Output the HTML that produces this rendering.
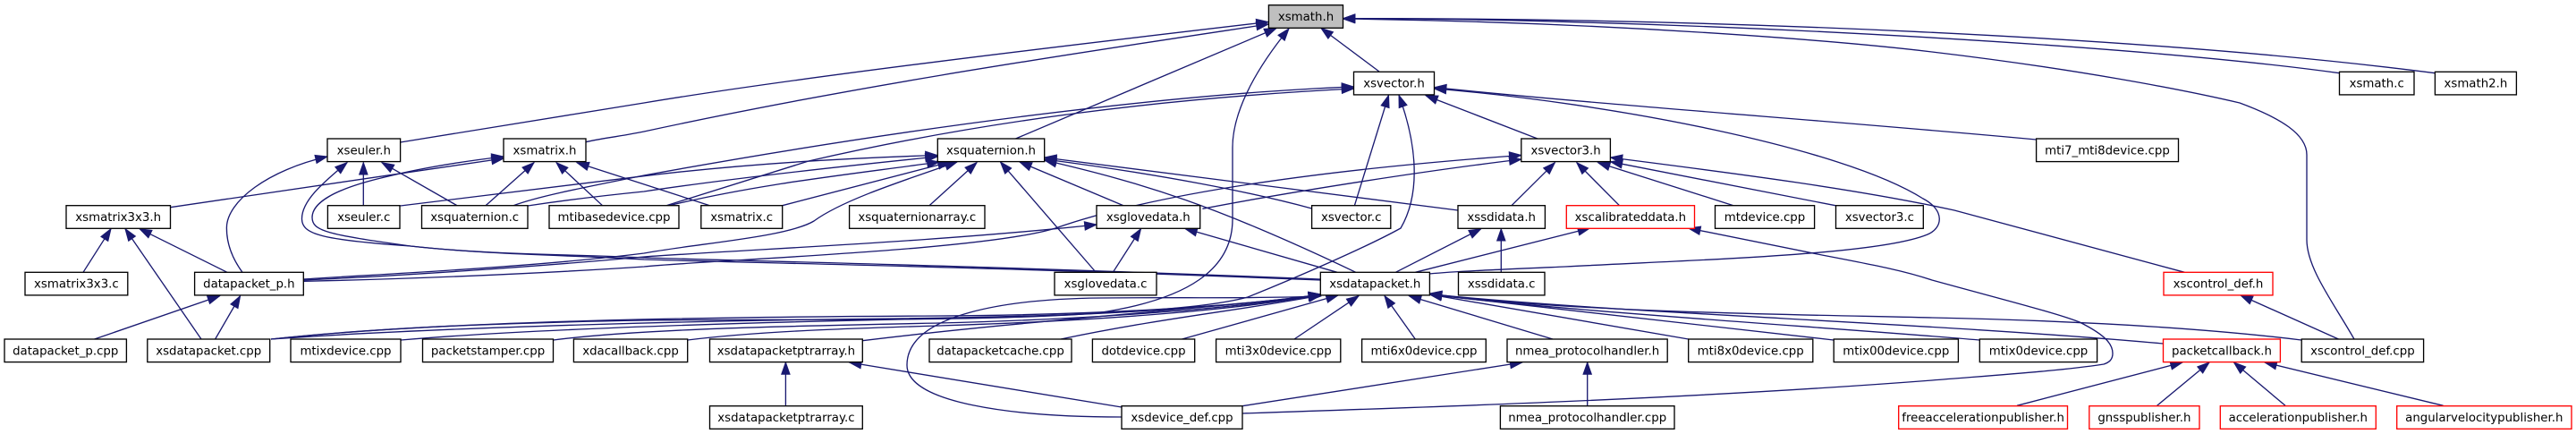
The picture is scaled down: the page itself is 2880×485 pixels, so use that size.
<!DOCTYPE html>
<html><head><meta charset="utf-8"><title>xsmath.h include graph</title>
<style>
html,body{margin:0;padding:0;background:#fff}
svg{display:block}
.e path{fill:none;stroke:#191970;stroke-width:1.33;marker-start:url(#a)}
rect{fill:#fff;stroke:#000;stroke-width:1.33}
rect.r{stroke:#f00}
rect.g{fill:#bfbfbf}
text{font-family:"DejaVu Sans",sans-serif;font-size:13.33px;text-anchor:middle;fill:#000}
</style></head><body>
<svg xmlns="http://www.w3.org/2000/svg" width="2880" height="485" viewBox="0 0 2880 485">
<defs><marker id="a" markerUnits="userSpaceOnUse" markerWidth="16" markerHeight="12" refX="0" refY="6" orient="auto" overflow="visible"><path d="M0,6 L13.3,1.33 L13.3,10.67 z" fill="#191970" stroke="#191970" stroke-width="1"/></marker></defs>
<g class="e">
<!-- to xsmath.h -->
<path d="M1418,24.5 C1200,50 900,85 720,115 C620,132 530,145 447.6,159"/>
<path d="M1418,27 C1200,60 960,95 720,147 C690,153 670,155 655,158.7"/>
<path d="M1427,31.5 L1135.5,155"/>
<path d="M1441,32 C1410,70 1378,120 1378,165 L1378,245 C1378,300 1330,335 1225,350 C1100,360 850,356 720,358 C600,360 430,365 303,379"/>
<path d="M1477,31.5 L1542,80"/>
<path d="M1501.5,20.7 C1800,20 2350,45 2615.5,81.7"/>
<path d="M1501.5,20.7 C1900,20 2400,40 2722.4,81.7"/>
<path d="M1501.5,21 C1800,25 2050,45 2160,58 C2320,77 2440,100 2504,115 C2550,132 2579,150 2579,173 L2579,268 C2579,300 2610,340 2632,379"/>
<!-- to xsvector.h -->
<path d="M1552.5,106.5 L1514.4,229.7"/>
<path d="M1564,106.5 C1580,150 1592,210 1566,255 C1530,275 1450,310 1395,332 C1330,350 1150,354 1000,356 C800,358 500,365 303,379"/>
<path d="M1513.5,97 C1300,105 1000,145 720,196 C640,212 600,220 574,229.7"/>
<path d="M1513.5,99 C1300,110 1100,135 904,180 L745,229.7"/>
<path d="M1594,106.7 L1719,155"/>
<path d="M1603.5,97.7 C1800,118 2050,135 2276.6,156"/>
<path d="M1603.5,99 C1800,115 2060,165 2150,222 C2175,235 2172,255 2155,262 C2100,285 1900,290 1750,298 C1680,301 1630,303 1598,306"/>
<!-- to xsquaternion.h -->
<path d="M1048,173.5 C900,178 800,187 720,196.7 L447.6,230"/>
<path d="M1048,175 C900,190 800,202 720,214 C670,219 630,224 590,230"/>
<path d="M1050,181 C950,195 850,205 747,230"/>
<path d="M1062,181 L874.7,229.7"/>
<path d="M1070,181 C1000,205 940,225 910,247 C880,265 780,272 720,283 C600,298 450,305 339,312"/>
<path d="M1092,181.7 L1039,229.7"/>
<path d="M1118.5,181 L1225,304"/>
<path d="M1140,181 L1256,229.7"/>
<path d="M1167.7,176 L1630,235"/>
<path d="M1167.7,178 C1300,195 1400,215 1466.6,233"/>
<path d="M1167.7,179 C1280,205 1360,230 1515.8,304.3"/>
<!-- to xsmatrix.h -->
<path d="M563,177 L190.5,231.7"/>
<path d="M563,175 C520,180 470,188 430,198 C370,212 349,228 349,243 C349,258 365,262 459,275 C550,285 640,284 720,288 C850,292 1100,297 1476,312"/>
<path d="M597,181.7 L543,229.7"/>
<path d="M622,181.7 L673.5,229.7"/>
<path d="M645,181.7 L793.5,229.7"/>
<!-- to xseuler.h -->
<path d="M366,175 C300,190 253,225 253.4,255 C253.4,275 262,292 271,304.3"/>
<path d="M388,181.7 C360,205 337,225 337.5,245 C338,262 360,268 459,275 C550,285 640,285 720,290 C850,294 1100,298 1476,313"/>
<path d="M406.3,181.7 L406.3,229.7"/>
<path d="M427,181.7 L511,229.7"/>
<!-- xsmatrix3x3.h -->
<path d="M124,255.7 L93,304.3"/>
<path d="M140,255.7 L225,379"/>
<path d="M156,255.7 L254,304.3"/>
<!-- datapacket_p.h -->
<path d="M245.6,330.7 L105.6,379"/>
<path d="M268.6,330.7 L240.6,379"/>
<!-- xsglovedata.h -->
<path d="M1226,251 C1050,270 850,278 720,287 C600,298 450,308 339.3,313"/>
<path d="M1275.5,255.7 L1244.3,304.3"/>
<path d="M1325,255.5 L1495,304.3"/>
<!-- xsvector3.h -->
<path d="M1700.8,173.5 C1500,188 1300,213 1180,255 C1100,280 800,290 720,298 C600,306 450,312 339.3,314.3"/>
<path d="M1700.8,178 C1600,190 1450,213 1344.4,233.3"/>
<path d="M1738.4,181.7 L1690,229.7"/>
<path d="M1762.8,181.7 L1810.5,229.7"/>
<path d="M1786.6,181.7 L1938,229.7"/>
<path d="M1800.4,180.7 L2052,229.7"/>
<path d="M1800.4,176 C1950,195 2080,212 2185,235 L2442.4,304.3"/>
<!-- xssdidata.h -->
<path d="M1678.3,255.7 L1678.3,304.3"/>
<path d="M1655.8,255.7 L1560.3,304.3"/>
<!-- xscalibrateddata.h -->
<path d="M1777.5,255 L1582.3,304.3"/>
<path d="M1887.7,255 L2037,285 C2100,297 2130,303 2160,313 C2240,335 2300,350 2325,360 C2355,375 2362,385 2362,395 C2362,402 2358,405 2352,407 C2300,415 2220,420 2160,425 C1900,445 1600,455 1389,462"/>
<path d="M2505,330 L2614.5,379"/>
<!-- to xsdatapacket.h -->
<path d="M1476.5,329 C1400,340 1250,352 1050,353 C800,354 500,358 303,379"/>
<path d="M1476.5,329 C1400,340 1250,353 1050,356 C850,360 600,367 448,380"/>
<path d="M1476.5,329 C1400,342 1250,356 1050,361 C900,364 720,367 618.5,380"/>
<path d="M1476.5,329 C1400,344 1250,358 1050,364 C950,367 850,370 768.7,380"/>
<path d="M1476.5,330 C1350,345 1150,358 964.3,380.7"/>
<path d="M1476.5,330 C1400,345 1300,355 1186,379"/>
<path d="M1496,330 L1321.5,379"/>
<path d="M1519,330.7 L1447,379"/>
<path d="M1548,330.7 L1582.3,379"/>
<path d="M1575.4,330.7 L1736,379"/>
<path d="M1598.4,329 L1887.7,379"/>
<path d="M1598.4,329 L2050,380"/>
<path d="M1598.4,329 C1750,348 2050,366 2213,380"/>
<path d="M1598.4,328.5 C1800,350 2150,360 2418.5,384"/>
<path d="M1598.4,328 C1750,350 2050,352 2160,355 C2300,358 2450,365 2573,380"/>
<path d="M1476.5,331 C1400,334 1320,332 1230,333 C1130,334 1014,350 1014,408 C1014,450 1130,466 1254,466"/>
<!-- row 5 / 6 -->
<path d="M949.6,405 L1254,455"/>
<path d="M878.4,405 L878.4,453.3"/>
<path d="M1701.7,405 L1389,453.7"/>
<path d="M1774.7,405 L1774.7,453.3"/>
<path d="M2440,405 L2255,453.3"/>
<path d="M2470,405 L2411.6,453.3"/>
<path d="M2497.5,405 L2555,453.3"/>
<path d="M2532,405 L2731.6,453.3"/>
</g>
<rect class="g" x="1418.4" y="5.7" width="83.1" height="25.6"/><text x="1460" y="23">xsmath.h</text>
<rect x="1513.5" y="80.3" width="90" height="25.6"/><text x="1558.5" y="97.6">xsvector.h</text>
<rect x="2615.5" y="80.3" width="83.5" height="25.6"/><text x="2657.2" y="97.6">xsmath.c</text>
<rect x="2722.4" y="80.3" width="91" height="25.6"/><text x="2767.9" y="97.6">xsmath2.h</text>
<rect x="366" y="155" width="81.6" height="25.6"/><text x="406.8" y="172.3">xseuler.h</text>
<rect x="563" y="155" width="92" height="25.6"/><text x="609" y="172.3">xsmatrix.h</text>
<rect x="1048.3" y="155" width="119.4" height="25.6"/><text x="1108" y="172.3">xsquaternion.h</text>
<rect x="1700.8" y="155" width="99.6" height="25.6"/><text x="1750.6" y="172.3">xsvector3.h</text>
<rect x="2276.6" y="155" width="158.9" height="25.6"/><text x="2356" y="172.3">mti7_mti8device.cpp</text>
<rect x="74" y="229.7" width="116.5" height="25.6"/><text x="132.2" y="247">xsmatrix3x3.h</text>
<rect x="366.4" y="229.7" width="80.6" height="25.6"/><text x="406.7" y="247">xseuler.c</text>
<rect x="471.5" y="229.7" width="118.5" height="25.6"/><text x="530.7" y="247">xsquaternion.c</text>
<rect x="614" y="229.7" width="145" height="25.6"/><text x="686.5" y="247">mtibasedevice.cpp</text>
<rect x="783.8" y="229.7" width="90.9" height="25.6"/><text x="829.2" y="247">xsmatrix.c</text>
<rect x="949.6" y="229.7" width="151.4" height="25.6"/><text x="1025.3" y="247">xsquaternionarray.c</text>
<rect x="1226" y="229.7" width="115.7" height="25.6"/><text x="1283.8" y="247">xsglovedata.h</text>
<rect x="1466.6" y="229.7" width="88.2" height="25.6"/><text x="1510.7" y="247">xsvector.c</text>
<rect x="1630" y="229.7" width="97.4" height="25.6"/><text x="1678.7" y="247">xssdidata.h</text>
<rect class="r" x="1751.3" y="229.7" width="143.2" height="25.6"/><text x="1822.9" y="247">xscalibrateddata.h</text>
<rect x="1917.5" y="229.7" width="111.1" height="25.6"/><text x="1973" y="247">mtdevice.cpp</text>
<rect x="2052.5" y="229.7" width="97.8" height="25.6"/><text x="2101.4" y="247">xsvector3.c</text>
<rect x="28" y="304.3" width="114.8" height="25.6"/><text x="85.4" y="321.6">xsmatrix3x3.c</text>
<rect x="217.6" y="304.3" width="121.7" height="25.6"/><text x="278.4" y="321.6">datapacket_p.h</text>
<rect x="1179" y="304.3" width="114" height="25.6"/><text x="1236" y="321.6">xsglovedata.c</text>
<rect x="1476.3" y="304.3" width="122.1" height="25.6"/><text x="1537.3" y="321.6">xsdatapacket.h</text>
<rect x="1630.5" y="304.3" width="96.5" height="25.6"/><text x="1678.7" y="321.6">xssdidata.c</text>
<rect class="r" x="2419" y="304.3" width="122" height="25.6"/><text x="2480" y="321.6">xscontrol_def.h</text>
<rect x="5" y="379" width="136.4" height="25.6"/><text x="73.2" y="396.3">datapacket_p.cpp</text>
<rect x="164.8" y="379" width="136.9" height="25.6"/><text x="233.2" y="396.3">xsdatapacket.cpp</text>
<rect x="325" y="379" width="123" height="25.6"/><text x="386.5" y="396.3">mtixdevice.cpp</text>
<rect x="472.5" y="379" width="146" height="25.6"/><text x="545.5" y="396.3">packetstamper.cpp</text>
<rect x="641.4" y="379" width="127.3" height="25.6"/><text x="705" y="396.3">xdacallback.cpp</text>
<rect x="793.5" y="379" width="170.8" height="25.6"/><text x="878.9" y="396.3">xsdatapacketptrarray.h</text>
<rect x="1039" y="379" width="159" height="25.6"/><text x="1118.5" y="396.3">datapacketcache.cpp</text>
<rect x="1221.4" y="379" width="114.3" height="25.6"/><text x="1278.5" y="396.3">dotdevice.cpp</text>
<rect x="1359.6" y="379" width="139.2" height="25.6"/><text x="1429.2" y="396.3">mti3x0device.cpp</text>
<rect x="1522.6" y="379" width="138.7" height="25.6"/><text x="1592" y="396.3">mti6x0device.cpp</text>
<rect x="1685" y="379" width="179.2" height="25.6"/><text x="1774.6" y="396.3">nmea_protocolhandler.h</text>
<rect x="1887.7" y="379" width="139.1" height="25.6"/><text x="1957.2" y="396.3">mti8x0device.cpp</text>
<rect x="2050.2" y="379" width="139.2" height="25.6"/><text x="2119.8" y="396.3">mtix00device.cpp</text>
<rect x="2213.3" y="379" width="131.3" height="25.6"/><text x="2279" y="396.3">mtix0device.cpp</text>
<rect class="r" x="2418.5" y="379" width="130.9" height="25.6"/><text x="2484" y="396.3">packetcallback.h</text>
<rect x="2573.2" y="379" width="136.4" height="25.6"/><text x="2641.4" y="396.3">xscontrol_def.cpp</text>
<rect x="793.5" y="453.7" width="170.8" height="25.6"/><text x="878.9" y="471">xsdatapacketptrarray.c</text>
<rect x="1254" y="453.7" width="135" height="25.6"/><text x="1321.5" y="471">xsdevice_def.cpp</text>
<rect x="1677.4" y="453.7" width="194.6" height="25.6"/><text x="1774.7" y="471">nmea_protocolhandler.cpp</text>
<rect class="r" x="2122.7" y="453.7" width="188.8" height="25.6"/><text x="2217.1" y="471">freeaccelerationpublisher.h</text>
<rect class="r" x="2335.8" y="453.7" width="123.2" height="25.6"/><text x="2397.4" y="471">gnsspublisher.h</text>
<rect class="r" x="2482.3" y="453.7" width="174" height="25.6"/><text x="2569.3" y="471">accelerationpublisher.h</text>
<rect class="r" x="2679.7" y="453.7" width="195.3" height="25.6"/><text x="2777.3" y="471">angularvelocitypublisher.h</text>
</svg>
</body></html>
